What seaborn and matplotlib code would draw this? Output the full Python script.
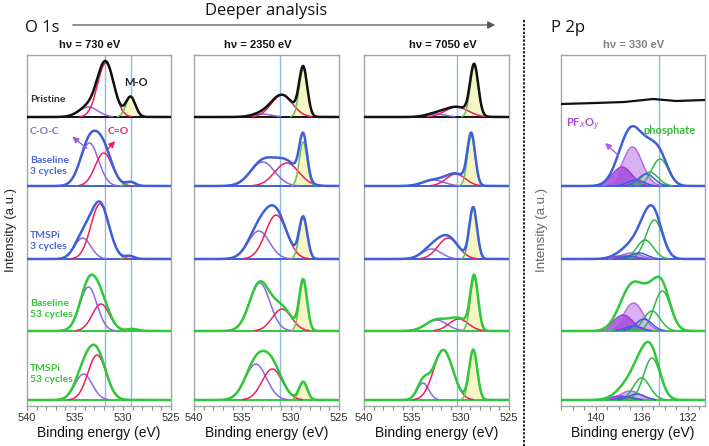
import numpy as np
import matplotlib
matplotlib.use("Agg")
import matplotlib.pyplot as plt
from matplotlib.lines import Line2D
from matplotlib.ticker import MultipleLocator
import seaborn as sns

sns.set_theme(style="white")
plt.rcParams['font.family'] = ['Liberation Sans', 'DejaVu Sans']

# ------------------------------------------------------------------ data
row_labels = ["Pristine", "Baseline\n3 cycles", "TMSPi\n3 cycles",
              "Baseline\n53 cycles", "TMSPi\n53 cycles"]
o_titles = ["hν = 730 eV", "hν = 2350 eV", "hν = 7050 eV"]
p_title = "hν = 330 eV"
o_ticks = [540, 535, 530, 525]
p_ticks = [140, 136, 132]
o_ref_lines = [[531.9, 529.2], [531.1], [530.4]]
p_ref_lines = [134.5]

# O 1s components per row, order: [C-O-C, C=O, M-O]
o730_center = [[533.6, 531.8, 529.2], [533.5, 532.0, 529.2], [534.2, 532.4, 529.3],
               [533.6, 532.3, 529.0], [534.1, 532.7, 529.2]]
o730_height = [[10, 54, 20], [43, 33, 4], [21, 55, 3], [44, 27, 2], [26, 45, 0]]
o730_sigma = [[1.0, 0.85, 0.5], [0.95, 0.9, 0.5], [0.85, 0.95, 0.5],
              [0.9, 0.9, 0.6], [0.9, 0.95, 0.5]]

o2350_center = [[533.0, 530.9, 528.7], [532.9, 530.4, 528.7], [533.3, 531.5, 528.7],
                [533.2, 530.9, 528.7], [533.6, 531.9, 528.7]]
o2350_height = [[3, 22, 48], [24, 23, 44], [28, 44, 41], [48, 22, 50], [36, 31, 18]]
o2350_sigma = [[1.0, 1.1, 0.42], [1.25, 1.25, 0.4], [1.1, 1.1, 0.42],
               [1.05, 1.0, 0.4], [1.1, 1.05, 0.42]]

o7050_center = [[532.6, 530.4, 528.6], [532.8, 530.5, 528.9], [533.0, 531.3, 528.7],
                [532.5, 530.2, 528.6], [533.9, 531.8, 528.7]]
o7050_height = [[3, 10, 50], [6, 12, 50], [10, 21, 51], [11, 12, 53], [17, 50, 50]]
o7050_sigma = [[1.0, 1.2, 0.42], [1.1, 1.0, 0.4], [1.0, 1.05, 0.4],
               [1.1, 1.0, 0.4], [0.6, 1.0, 0.42]]

# P 2p: pristine trace (flat) and fitted doublets for rows 2-5
p_pristine_x = [143.0, 140.0, 137.5, 135.0, 133.0, 130.5]
p_pristine_y = [13, 14, 15, 18, 16, 17]
# order: [PFxOy 2p3/2, PFxOy 2p1/2, phosphate 2p3/2, phosphate 2p1/2, other 2p3/2, other 2p1/2]
p_center = [[136.8, 137.7, 134.4, 135.3, 135.6, 136.5],
            [136.9, 137.8, 134.9, 135.7, 136.2, 137.1],
            [136.7, 137.6, 134.2, 135.1, 135.8, 136.7],
            [137.0, 137.9, 135.1, 136.0, 136.4, 137.3]]
p_height = [[39, 19, 27, 14, 12, 6],
            [6, 3, 39, 19, 6, 3],
            [28, 16, 40, 20, 12, 5],
            [9, 4, 42, 22, 6, 3]]
p_sigma = [0.85, 0.85, 0.72, 0.72, 0.7, 0.7]

# ------------------------------------------------------------------ style / layout
W, H = 709, 446
BLACK, BLUE, GREEN = '#111111', '#3f5fd8', '#2ec83a'
row_colors = [BLACK, BLUE, BLUE, GREEN, GREEN]
label_colors = ['#333333', '#4a66d8', '#4a66d8', '#35c635', '#35c635']
C_PURPLE, C_RED, C_GREEN = '#8c68dc', '#ee1f5c', '#6cc050'
offsets = [289, 220, 147, 75, 6]
YMAX = 351

fig = plt.figure(figsize=(W / 100, H / 100), dpi=100)


def px_axes(l, r, t, b):
    return fig.add_axes([l / W, 1 - b / H, (r - l) / W, (b - t) / H])


def gauss(x, c, h, s):
    return h * np.exp(-0.5 * ((x - c) / s) ** 2)


def style_axes(ax, xlim, ticks):
    ax.set_xlim(*xlim)
    ax.set_ylim(0, YMAX)
    ax.set_xticks(ticks)
    ax.xaxis.set_minor_locator(MultipleLocator(1))
    ax.set_yticks([])
    ax.tick_params(axis='x', which='both', direction='out', bottom=True,
                   length=3, width=0.8, color='#888888', labelsize=8,
                   labelcolor='#333333', pad=2)
    for sp in ax.spines.values():
        sp.set_color('#a5a5a5')
        sp.set_linewidth(1.0)
    ax.set_xlabel("Binding energy (eV)", fontsize=10, color='#111111', labelpad=2)
    ax.set_ylabel("")


def line(ax, x, y, color, lw, z):
    sns.lineplot(x=x, y=y, ax=ax, color=color, lw=lw, zorder=z,
                 errorbar=None, estimator=None, sort=False)


def draw_o(ax, centers, heights, sigmas, refs):
    x = np.linspace(525, 540, 600)
    for v in refs:
        ax.axvline(v, color='#8cbcdf', lw=1.0, zorder=0.5)
    for r in range(5):
        off, col = offsets[r], row_colors[r]
        comps = [gauss(x, c, h, s) for c, h, s in zip(centers[r], heights[r], sigmas[r])]
        env = np.sum(comps, axis=0)
        mo = comps[2]
        m = mo > 0.4
        if m.any():
            ax.fill_between(x[m], off, off + mo[m], color='#f5f5c6', lw=0, zorder=1)
        line(ax, x, np.full_like(x, off), col, 1.4, 2)
        for comp, cc in zip(comps, [C_PURPLE, C_RED, C_GREEN]):
            m = comp > 0.4
            if m.sum() > 2:
                line(ax, x[m], off + comp[m], cc, 1.1, 3)
        line(ax, x, off + env, col, 1.8, 4)
    style_axes(ax, (540, 525), o_ticks)


axes_px = [(27, 171), (194, 339), (364, 509)]
o_sets = [(o730_center, o730_height, o730_sigma),
          (o2350_center, o2350_height, o2350_sigma),
          (o7050_center, o7050_height, o7050_sigma)]
o_axes = []
for (l, r), (cs, hs, ss), refs in zip(axes_px, o_sets, o_ref_lines):
    ax = px_axes(l, r, 55, 406)
    draw_o(ax, cs, hs, ss, refs)
    o_axes.append(ax)

# ---- P 2p panel
axp = px_axes(561, 705, 55, 406)
xp = np.linspace(130.5, 143, 600)
for v in p_ref_lines:
    axp.axvline(v, color='#8cbcdf', lw=1.0, zorder=0.5)
line(axp, np.array(p_pristine_x), offsets[0] + np.array(p_pristine_y), BLACK, 1.6, 4)
comp_cols = ['#b36be0', '#9a40d4', '#2fb84a', '#2fb84a', BLUE, BLUE]
fill_cols = ['#d3a2ef', '#a44ade']
for i in range(4):
    off, col = offsets[i + 1], row_colors[i + 1]
    comps = [gauss(xp, c, h, p_sigma[k]) for k, (c, h) in enumerate(zip(p_center[i], p_height[i]))]
    env = np.sum(comps, axis=0)
    line(axp, xp, np.full_like(xp, off), col, 1.4, 2)
    for k in range(2):
        m = comps[k] > 0.4
        axp.fill_between(xp[m], off, off + comps[k][m], color=fill_cols[k],
                         alpha=0.85, lw=0, zorder=1 + k * 0.1)
    for k, cc in enumerate(comp_cols):
        m = comps[k] > 0.4
        if m.sum() > 2:
            line(axp, xp[m], off + comps[k][m], cc, 1.1, 3)
    line(axp, xp, off + env, col, 1.8, 4)
style_axes(axp, (143, 130.5), p_ticks)


# ------------------------------------------------------------------ texts
def ftext(x, y, s, **kw):
    kw.setdefault('va', 'center')
    fig.text(x / W, 1 - y / H, s, **kw)


ftext(266, 11, "Deeper analysis", ha='center', fontsize=12, family=['Open Sans', 'DejaVu Sans'], color='#111111')
ftext(25, 28, "O 1s", ha='left', fontsize=12, family=['Open Sans', 'DejaVu Sans'], color='#111111')
ftext(551, 28, "P 2p", ha='left', fontsize=12, family=['Open Sans', 'DejaVu Sans'], color='#111111')
fig.add_artist(matplotlib.patches.FancyArrowPatch((70 / W, 1 - 25 / H), (498 / W, 1 - 25 / H),
               transform=fig.transFigure, arrowstyle='-|>', mutation_scale=11,
               color='#555555', lw=0.9))
fig.add_artist(Line2D([524 / W, 524 / W], [1 - 20 / H, 0], transform=fig.transFigure,
                      color='#222222', lw=1.4, ls=(0, (1.2, 0.8))))

for (l, r), t, dx in zip(axes_px, o_titles, [-9, -9, 6]):
    ftext((l + r) / 2 + dx, 45, t, ha='center', fontsize=8, color='#111111', fontweight='bold')
ftext(634, 45, p_title, ha='center', fontsize=8, color='#808080', fontweight='bold')

ftext(11, 230, "Intensity (a.u.)", ha='center', rotation=90, fontsize=9.5, color='#222222')
ftext(542, 230, "Intensity (a.u.)", ha='center', rotation=90, fontsize=9.5, color='#666666')

lab_y = [99, 166, 241, 309, 374]
for s, y, c in zip(row_labels, lab_y, label_colors):
    ftext(30, y, s, ha='left', fontsize=7.5, color=c, family=['Lato', 'DejaVu Sans'],
          fontweight='bold', linespacing=1.15)

ftext(124, 83, "M-O", ha='left', fontsize=8, color='#222222', family=['Lato', 'DejaVu Sans'], fontweight='bold')
ftext(30, 131, "C-O-C", ha='left', fontsize=7.5, color='#8c68dc', family=['Lato', 'DejaVu Sans'], fontweight='bold')
ftext(108, 131, "C=O", ha='left', fontsize=7.5, color='#ee1f5c', family=['Lato', 'DejaVu Sans'], fontweight='bold')
ftext(566, 125, "PF$_x$O$_y$", ha='left', fontsize=8, color='#a64dd8', family=['Lato', 'DejaVu Sans'], fontweight='bold')
ftext(643, 130, "phosphate", ha='left', fontsize=8, color='#33bb33', family=['Lato', 'DejaVu Sans'], fontweight='bold')

arrows = [((89, 150), (70, 135), '#8c68dc'), ((106, 151), (117, 139), '#ee1f5c'),
          ((620, 157), (603, 141), '#b060e0')]
for (x0, y0), (x1, y1), c in arrows:
    fig.add_artist(matplotlib.patches.FancyArrowPatch((x0 / W, 1 - y0 / H), (x1 / W, 1 - y1 / H),
                   transform=fig.transFigure, arrowstyle='-|>', mutation_scale=9,
                   color=c, lw=1.0))

fig.savefig("out.png", dpi=100)
